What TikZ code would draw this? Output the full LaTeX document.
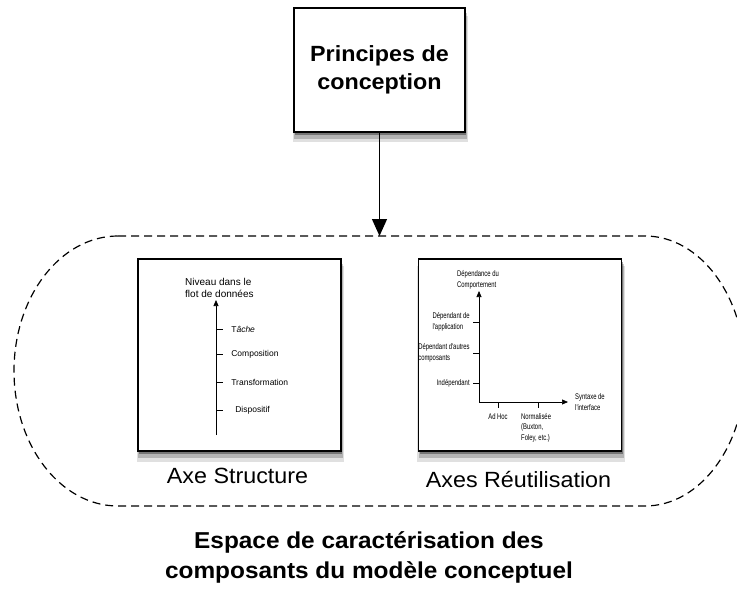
\documentclass[tikz,border=0pt]{standalone}
\usepackage{fontspec}
\setmainfont{Liberation Sans}
\newfontfamily\narrowfont[FakeStretch=0.72]{Liberation Sans}
\newfontfamily\widefont[FakeStretch=1.06]{Liberation Sans}
\usetikzlibrary{arrows.meta,shadows,positioning}
\tikzset{panel/.style={draw,line width=1.3pt,fill=white,inner sep=0pt,
           minimum width=203pt,minimum height=192pt,
           drop shadow={shadow xshift=1pt,shadow yshift=-9pt,shadow scale=1.02,opacity=.12,fill=black},
           drop shadow={shadow xshift=1pt,shadow yshift=-6pt,shadow scale=1.01,opacity=.2,fill=black},
           drop shadow={shadow xshift=1pt,shadow yshift=-3pt,opacity=.35,fill=black}},
         ax/.style={-{Triangle[length=6pt,width=5pt]},line width=.7pt},
         tickmark/.style={line width=.7pt},
         lbl/.style={inner sep=0pt,font=\fontsize{8.5}{12}\selectfont,align=left},
         tiny/.style={inner sep=0pt,font=\narrowfont\fontsize{8.2}{10.5}\selectfont,align=left},
         caption/.style={inner sep=0pt,anchor=base,font=\widefont\fontsize{22}{24}\selectfont}}
\begin{document}
\begin{tikzpicture}[x=1pt,y=-1pt]
  \useasboundingbox (0,0) rectangle (737,594);
  % top box and arrow
  \node[panel,minimum width=171pt,minimum height=124pt,align=center,
        font=\widefont\bfseries\fontsize{22}{28}\selectfont] (principes) at (379.5,70)
    {Principes de\\conception};
  \coordinate (espacetop) at (379.5,236);
  \draw[-{Triangle[length=17pt,width=15pt]},line width=1.3pt] (principes) -- (espacetop);
  % dashed region
  \draw[line width=1.2pt,dash pattern=on 8pt off 5pt]
    (118,236) -- (645,236) arc(-90:90:100 and 135) -- (118,506)
    arc(90:270:104 and 135) -- cycle;
  % left panel
  \node[panel] (structure) at (239.5,355) {};
  \node[caption] (structcap) at (237.5,483) {Axe Structure};
  \coordinate (niv0) at (216,435);
  \coordinate (niv1) at (216,300);
  \draw[ax] (niv0) -- (niv1);
  \node[lbl,anchor=south west,font=\fontsize{10}{12}\selectfont] (niveau) at (185,298)
    {Niveau dans le\\flot de données};
  \foreach \y/\txt/\dx in {329/T\textit{âche}/0,354/Composition/0,382/Transformation/0,410/Dispositif/4}
    \draw[tickmark] (216,\y) -- (223,\y) node[lbl,right=\dx pt+8pt] {\txt};
  % right panel
  \node[panel] (reuse) at (520,355) {};
  \node[caption] (reusecap) at (518.5,487) {Axes Réutilisation};
  \coordinate (orig) at (479,402);
  \coordinate (yend) at (479,291);
  \coordinate (xend) at (568,402);
  \draw[ax] (orig) -- (yend);
  \draw[ax] (orig) -- (xend);
  \node[tiny,anchor=south west] (dep) at (457,289) {Dépendance du\\Comportement};
  \foreach \y/\txt in {322/{Dépendant de\\l'application},353/{Dépendant d'autres\\composants},383/Indépendant}
    \draw[tickmark] (479,\y) -- (473,\y) node[tiny,left=3pt] {\txt};
  \draw[tickmark] (498,402) -- (498,408) node[tiny,below=5pt] (adhoc) {Ad Hoc};
  \draw[tickmark] (538,402) -- (538,408) coordinate (normtick);
  \node[tiny,anchor=north west] (norm) at (521,413) {Normalisée\\(Buxton,\\Foley, etc.)};
  \node[tiny,anchor=west] (syntaxe) at (575,402) {Syntaxe de\\l'interface};
  % caption
  \node[inner sep=0pt,align=center,font=\widefont\bfseries\fontsize{23}{30}\selectfont] (espace) at (369,557)
    {Espace de caractérisation des\\composants du modèle conceptuel};
\end{tikzpicture}
\end{document}
